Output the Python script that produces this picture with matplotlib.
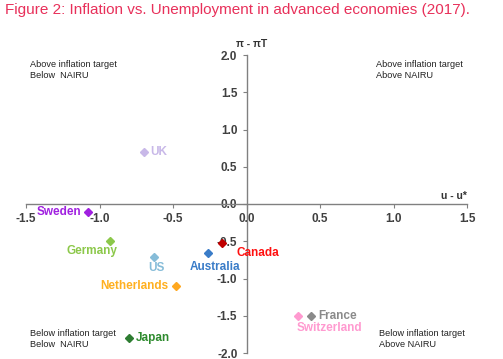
import matplotlib.pyplot as plt
import numpy as np

plt.rcParams['font.family'] = ['Liberation Sans', 'DejaVu Sans']

# data (u - u*, pi - piT)
countries = ['UK', 'Sweden', 'Germany', 'US', 'Australia', 'Canada',
             'Netherlands', 'Japan', 'Switzerland', 'France']
unemp_gap = [-0.70, -1.08, -0.93, -0.63, -0.26, -0.17, -0.48, -0.80, 0.35, 0.44]
infl_gap = [0.70, -0.11, -0.50, -0.71, -0.66, -0.52, -1.10, -1.80, -1.51, -1.51]
marker_colors = ['#c8b8e8', '#a020e0', '#8cc84a', '#86bcd8', '#3a7cc8', '#c00000',
                 '#ffa820', '#2e7d32', '#ff9ad0', '#8a8a8a']
label_colors = ['#c8b8e8', '#a020e0', '#8cc84a', '#86bcd8', '#3a7cc8', '#ff1010',
                '#ffb020', '#2e8b2e', '#ff9ad0', '#8a8a8a']
# label offsets in pixels and alignment
offsets = [(7, 0), (-6, 0), (-18, -10), (3, -11), (7, -14), (15, -10),
           (-8, 0), (7, 0), (-1, -12), (7, 0)]
aligns = ['left', 'right', 'center', 'center', 'center', 'left',
          'right', 'left', 'left', 'left']

fig = plt.figure(figsize=(5.03, 3.59), dpi=100)
ax = fig.add_axes([26 / 503, 6 / 359, 441 / 503, 298 / 359])

ax.set_xlim(-1.5, 1.5)
ax.set_ylim(-2.0, 2.0)
ax.spines['left'].set_position(('data', 0))
ax.spines['bottom'].set_position(('data', 0))
ax.spines['right'].set_visible(False)
ax.spines['top'].set_visible(False)
for s in ['left', 'bottom']:
    ax.spines[s].set_color('#808080')
    ax.spines[s].set_linewidth(1.0)

ax.set_xticks(np.arange(-1.5, 1.51, 0.5))
ax.set_yticks(np.arange(-2.0, 2.01, 0.5))
ax.xaxis.set_major_formatter(plt.FuncFormatter(lambda v, p: f'{v:.1f}'))
ax.yaxis.set_major_formatter(plt.FuncFormatter(lambda v, p: f'{v:.1f}'))
ax.tick_params(axis='both', colors='#808080', length=3, labelsize=8.5,
               labelcolor='#404040')
for lbl in ax.get_xticklabels() + ax.get_yticklabels():
    lbl.set_fontweight('bold')

for i, name in enumerate(countries):
    ax.plot(unemp_gap[i], infl_gap[i], marker='D', markersize=4.5,
            color=marker_colors[i], linestyle='none', zorder=3)
    ax.annotate(name, (unemp_gap[i], infl_gap[i]), xytext=offsets[i],
                textcoords='offset pixels', ha=aligns[i], va='center',
                fontsize=8.5, fontweight='bold', color=label_colors[i])

# quadrant notes
ax.text(-1.47, 1.93, 'Above inflation target\nBelow  NAIRU', fontsize=6.6,
        va='top', ha='left', color='#222222')
ax.text(0.88, 1.93, 'Above inflation target\nAbove NAIRU', fontsize=6.6,
        va='top', ha='left', color='#222222')
ax.text(-1.47, -1.68, 'Below inflation target\nBelow  NAIRU', fontsize=6.6,
        va='top', ha='left', color='#222222')
ax.text(0.90, -1.68, 'Below inflation target\nAbove NAIRU', fontsize=6.6,
        va='top', ha='left', color='#222222')

# axis names
ax.text(-0.07, 2.08, 'π - πT', fontsize=7.5, fontweight='bold', color='#333333',
        ha='left', va='bottom', clip_on=False)
ax.text(1.5, 0.04, 'u - u*', fontsize=7.5, fontweight='bold', color='#333333',
        ha='right', va='bottom')

fig.text(5 / 503, 1 - 10 / 359, 'Figure 2: Inflation vs. Unemployment in advanced economies (2017).',
         fontsize=11, color='#e8305a', ha='left', va='center')

fig.savefig('out.png', dpi=100)
